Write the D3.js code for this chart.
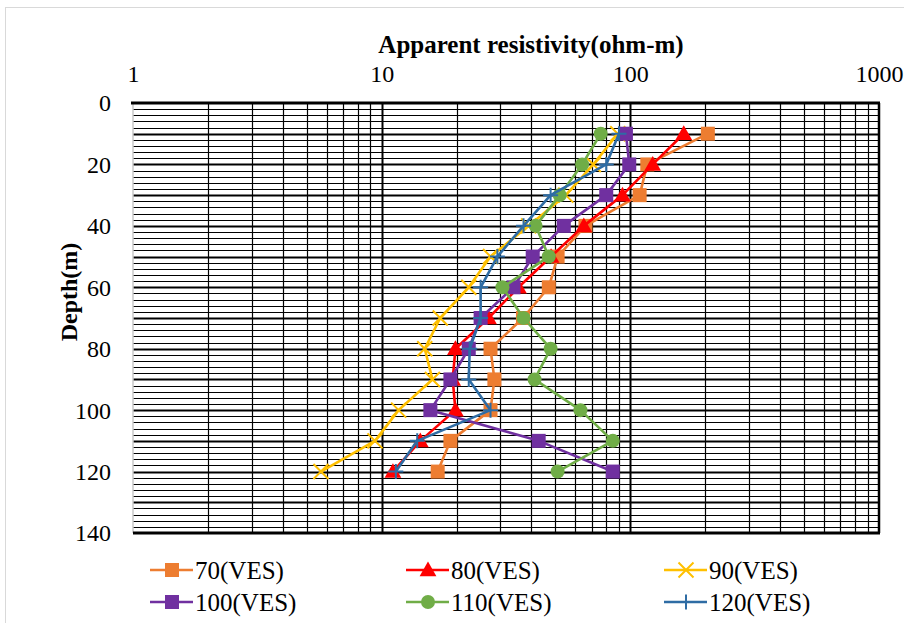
<!DOCTYPE html>
<html>
<head>
<meta charset="utf-8">
<script src="https://cdn.jsdelivr.net/npm/d3@7"></script>
<style>
  body { margin: 0; background: #fff; }
  svg { display: block; }
  text { font-family: "Liberation Serif", "Times New Roman", serif; fill: #000; }
</style>
</head>
<body>
<svg id="chart" width="904" height="623"></svg>
<script>
const depths = [10, 20, 30, 40, 50, 60, 70, 80, 90, 100, 110, 120];
const ves70  = [205, 117, 109, 66, 51, 47, 37, 27.4, 28.4, 27.4, 18.9, 16.8];
const ves80  = [164, 123, 93, 65, 48, 35.5, 26.9, 19.8, 19.3, 19.8, 14.3, 11.1];
const ves90  = [89, 71, 55, 39, 27.4, 22.4, 17.2, 14.9, 16.0, 11.7, 9.4, 5.7];
const ves100 = [96, 99, 80, 54, 40.5, 33.9, 25, 22.4, 18.9, 15.7, 42.8, 85];
const ves110 = [76, 64, 52, 41.6, 47, 30.6, 37.2, 47.8, 41.2, 63, 85, 51];
const ves120 = [90, 80, 47.8, 37.2, 29.2, 25, 25, 22.6, 22.4, 27.4, 13.9, 11.4];
const seriesNames = ["70(VES)", "80(VES)", "90(VES)", "100(VES)", "110(VES)", "120(VES)"];
const xTicks = [1, 10, 100, 1000];
const yTicks = [0, 20, 40, 60, 80, 100, 120, 140];

const series = [
  { name: seriesNames[0], values: ves70,  color: "#ED7D31", marker: "square" },
  { name: seriesNames[1], values: ves80,  color: "#FF0000", marker: "triangle" },
  { name: seriesNames[2], values: ves90,  color: "#FFC000", marker: "x" },
  { name: seriesNames[3], values: ves100, color: "#7030A0", marker: "square" },
  { name: seriesNames[4], values: ves110, color: "#70AD47", marker: "circle" },
  { name: seriesNames[5], values: ves120, color: "#2E6CA4", marker: "plus" }
];

const svg = d3.select("#chart");
const L = 133, R = 879, T = 103, B = 533;
const x = d3.scaleLog().domain([1, 1000]).range([L, R]);
const y = d3.scaleLinear().domain([0, 140]).range([T, B]);

// outer chart border
svg.append("rect").attr("x", 5.5).attr("y", 7.5).attr("width", 910).attr("height", 620)
  .attr("fill", "none").attr("stroke", "#d9d9d9").attr("stroke-width", 1);

const grid = svg.append("g");
const py = v => Math.round(y(v)) + 0.5;
const px = v => Math.round(x(v)) + 0.5;
// horizontal grid every 2
d3.range(2, 140, 2).forEach(v => {
  const major = v % 10 === 0;
  grid.append("line").attr("x1", L).attr("x2", R).attr("y1", py(v)).attr("y2", py(v))
    .attr("stroke", "#000").attr("stroke-width", major ? 2 : 1.2);
});
// vertical log grid
const minor = [];
[1, 10, 100].forEach(d => { for (let k = 2; k <= 9; k++) minor.push(d * k); });
minor.forEach(v => {
  grid.append("line").attr("x1", px(v)).attr("x2", px(v)).attr("y1", T).attr("y2", B)
    .attr("stroke", "#000").attr("stroke-width", 1.2);
});
[10, 100].forEach(v => {
  grid.append("line").attr("x1", px(v)).attr("x2", px(v)).attr("y1", T).attr("y2", B)
    .attr("stroke", "#000").attr("stroke-width", 2);
});
grid.append("line").attr("x1", x(1)).attr("x2", x(1)).attr("y1", T).attr("y2", B)
  .attr("stroke", "#c8c8c8").attr("stroke-width", 1.5);
grid.append("line").attr("x1", x(1000)).attr("x2", x(1000)).attr("y1", T).attr("y2", B)
  .attr("stroke", "#000").attr("stroke-width", 2.5);
grid.append("line").attr("x1", L - 2).attr("x2", R + 1).attr("y1", y(0)).attr("y2", y(0))
  .attr("stroke", "#000").attr("stroke-width", 3);
grid.append("line").attr("x1", L).attr("x2", R + 1).attr("y1", y(140)).attr("y2", y(140))
  .attr("stroke", "#000").attr("stroke-width", 3);

// axes labels
const xAxis = d3.axisTop(x).tickValues(xTicks).tickFormat(d3.format("d")).tickSize(0).tickPadding(0);
const gx = svg.append("g").attr("transform", `translate(0,${T - 21})`).call(xAxis);
gx.select(".domain").remove();
gx.selectAll("text").attr("font-size", 24).attr("font-family", "Liberation Serif").attr("dy", "0");

const yAxis = d3.axisLeft(y).tickValues(yTicks).tickSize(0).tickPadding(0);
const gy = svg.append("g").attr("transform", `translate(${L - 22},0)`).call(yAxis);
gy.select(".domain").remove();
gy.selectAll("text").attr("font-size", 24).attr("font-family", "Liberation Serif").attr("dy", "0.33em");

svg.append("text").attr("x", 531).attr("y", 53).attr("text-anchor", "middle")
  .attr("font-size", 25).attr("font-weight", "bold").text("Apparent resistivity(ohm-m)");
svg.append("text").attr("transform", "translate(77,292) rotate(-90)").attr("text-anchor", "middle")
  .attr("font-size", 24).attr("font-weight", "bold").text("Depth(m)");

function drawMarker(g, type, cx, cy, color, s) {
  if (type === "square") {
    g.append("rect").attr("x", cx - s / 2).attr("y", cy - s / 2).attr("width", s).attr("height", s).attr("fill", color);
  } else if (type === "triangle") {
    g.append("path").attr("d", `M${cx},${cy - s * 0.6}L${cx + s * 0.6},${cy + s * 0.45}L${cx - s * 0.6},${cy + s * 0.45}Z`).attr("fill", color);
  } else if (type === "circle") {
    g.append("circle").attr("cx", cx).attr("cy", cy).attr("r", s / 2).attr("fill", color);
  } else if (type === "x") {
    const r = s / 2;
    g.append("path").attr("d", `M${cx - r},${cy - r}L${cx + r},${cy + r}M${cx - r},${cy + r}L${cx + r},${cy - r}`)
      .attr("stroke", color).attr("stroke-width", 2);
  } else if (type === "plus") {
    const r = s / 2;
    g.append("path").attr("d", `M${cx - r},${cy}L${cx + r},${cy}M${cx},${cy - r}L${cx},${cy + r}`)
      .attr("stroke", color).attr("stroke-width", 2);
  }
}

const line = d3.line().x(d => x(d[0])).y(d => y(d[1]));
series.forEach(s => {
  const pts = s.values.map((v, i) => [v, depths[i]]);
  const g = svg.append("g");
  g.append("path").datum(pts).attr("d", line).attr("fill", "none")
    .attr("stroke", s.color).attr("stroke-width", 2.6).attr("stroke-linejoin", "round");
  pts.forEach(p => drawMarker(g, s.marker, x(p[0]), y(p[1]), s.color, s.marker === "x" || s.marker === "plus" ? 15 : 14));
});

// legend
const colX = [150, 406, 664];
const rowY = [570, 602];
series.forEach((s, i) => {
  const cx = colX[i % 3], cy = rowY[Math.floor(i / 3)];
  const g = svg.append("g");
  g.append("line").attr("x1", cx).attr("x2", cx + 43).attr("y1", cy).attr("y2", cy)
    .attr("stroke", s.color).attr("stroke-width", 2.6);
  drawMarker(g, s.marker, cx + 22, cy, s.color, s.marker === "x" || s.marker === "plus" ? 15 : 14);
  g.append("text").attr("x", cx + 45).attr("y", cy).attr("dy", "0.35em")
    .attr("font-size", 25).text(s.name);
});
</script>
</body>
</html>
